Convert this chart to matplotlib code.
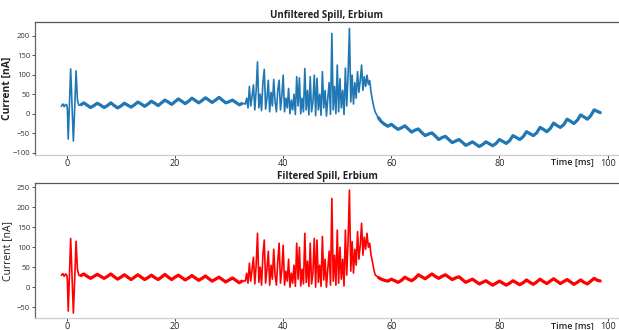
import numpy as np
import matplotlib.pyplot as plt

plt.rcParams['font.family'] = ['Open Sans', 'DejaVu Sans']

# ---- unfiltered spill (blue) ----
t_start = [-1.0, -0.75, -0.5, -0.25, 0.0, 0.1, 0.25, 0.45, 0.7, 0.95, 1.2, 1.45, 1.7, 1.95, 2.2]
raw_start = [20, 25, 18, 24, 22, 10, -65, 15, 115, 25, -70, 15, 110, 35, 22]

t_base = np.arange(2.5, 32.51, 0.625)
raw_base = [22, 28, 22, 16, 21, 27, 22, 16, 21, 28, 21, 15, 20, 27, 22, 17,
            23, 30, 25, 19, 25, 32, 27, 21, 28, 35, 30, 24, 31, 38, 32, 26,
            32, 40, 34, 28, 34, 41, 35, 29, 35, 42, 35, 28, 31, 35, 29, 23, 27]

t_burst = np.arange(33.0, 57.01, 0.25)
raw_burst = [25, 40, 15, 70, 20, 45, 74, 10, 60, 133, 15, 50, 8, 80, 114, 12,
             40, 86, 5, 55, 20, 88, 30, 5, 60, 86, 10, 45, 99, 5, 40, 15,
             65, 0, 35, 10, 50, -2, 95, 20, 92, 0, 40, 5, 116, 10, 60, -3,
             95, 5, 30, 99, -5, 91, 10, 50, -4, 108, 15, 60, -6, 40, 80, -2,
             206, 10, 70, 0, 125, 5, 90, 15, 60, -2, 117, 20, 100, 219, 30, 99,
             25, 80, 40, 108, 55, 85, 125, 60, 95, 70, 99, 75, 85, 55, 35, 18, 5]

t_tail = np.arange(57.5, 98.76, 0.625)
raw_tail = [-8, -20, -27, -32, -27, -34, -40, -36, -31, -39, -47, -42, -39, -48, -56, -52,
            -49, -57, -66, -61, -58, -66, -74, -70, -66, -73, -81, -77, -72, -78, -84, -79,
            -72, -77, -82, -76, -66, -71, -76, -69, -56, -61, -66, -59, -46, -51, -56, -49,
            -35, -40, -46, -38, -24, -30, -35, -28, -14, -19, -25, -17, -3, -8, -14, -5,
            10, 6, 2]

# ---- filtered spill (red) ----
filt_start = [30, 34, 27, 33, 30, 15, -60, 20, 122, 30, -65, 20, 115, 45, 30]

filt_base = [28, 33, 27, 22, 27, 32, 27, 22, 27, 33, 26, 20, 25, 31, 25, 19,
             25, 31, 25, 19, 24, 30, 24, 19, 25, 32, 25, 19, 25, 30, 24, 18,
             23, 29, 23, 17, 22, 28, 21, 15, 20, 25, 19, 13, 18, 23, 17, 11, 16]

filt_burst = [15, 35, 10, 60, 15, 45, 75, 8, 55, 135, 12, 50, 5, 80, 118, 10,
              45, 90, 5, 55, 20, 95, 30, 5, 65, 110, 10, 45, 105, 5, 40, 15,
              70, 0, 35, 10, 55, 2, 110, 20, 100, 3, 45, 8, 135, 12, 65, 2,
              110, 8, 35, 122, 0, 118, 12, 55, 2, 127, 18, 70, 0, 45, 90, 5,
              222, 15, 80, 5, 143, 10, 100, 20, 70, 3, 143, 30, 115, 243, 40, 114,
              35, 95, 55, 139, 70, 105, 160, 80, 125, 95, 135, 100, 110, 80, 64, 45, 31]

filt_tail = [25, 20, 17, 15, 20, 16, 12, 17, 25, 20, 16, 22, 31, 26, 21, 27,
             33, 27, 22, 27, 31, 25, 19, 23, 26, 19, 12, 16, 20, 14, 8, 12,
             16, 10, 5, 10, 15, 10, 5, 10, 16, 11, 6, 11, 18, 12, 7, 13,
             20, 14, 9, 15, 21, 15, 9, 14, 19, 13, 7, 12, 18, 12, 8, 15,
             22, 17, 15]

t_all = np.concatenate([t_start, t_base, t_burst, t_tail])
raw_all = np.concatenate([raw_start, raw_base, raw_burst, raw_tail])
filt_all = np.concatenate([filt_start, filt_base, filt_burst, filt_tail])

fig = plt.figure(figsize=(6.19, 3.30), dpi=100)
ax1 = fig.add_axes([0.0565, 0.530, 0.9435, 0.403])
ax2 = fig.add_axes([0.0565, 0.0355, 0.9435, 0.409])

panels = [
    (ax1, raw_all, raw_base, raw_tail, '#1f77b4', 'Unfiltered Spill, Erbium',
     (-106, 235), np.arange(-100, 201, 50), 'bold'),
    (ax2, filt_all, filt_base, filt_tail, '#ff0000', 'Filtered Spill, Erbium',
     (-78, 260), np.arange(-50, 251, 50), 'normal'),
]

for ax, y_all, y_base, y_tail, col, title, ylim, yticks, ywt in panels:
    ax.plot(t_all, y_all, color=col, lw=1.2)
    # the quiet parts of the trace are a thick noisy band
    ax.plot(t_base, y_base, color=col, lw=2.3, solid_capstyle='butt')
    ax.plot(t_tail, y_tail, color=col, lw=2.3, solid_capstyle='butt')
    ax.set_xlim(-5.9, 102.1)
    ax.set_ylim(*ylim)
    ax.set_xticks(np.arange(0, 101, 20))
    ax.set_yticks(yticks)
    ax.tick_params(axis='y', labelsize=5.5, length=2, width=0.6, pad=1.5, colors='#333333')
    ax.tick_params(axis='x', labelsize=6.5, length=2, width=0.6, pad=0.8, colors='#222222')
    ax.set_title(title, fontsize=7, fontweight='bold', pad=3, color='#222222')
    ax.set_ylabel('Current [nA]', fontsize=7.5, fontweight=ywt, color='#222222')
    ax.yaxis.set_label_coords(-0.038, 0.5)
    ax.set_xlabel('Time [ms]', fontsize=6.5, fontweight='semibold', color='#222222')
    ax.xaxis.set_label_coords(0.92, -0.052)
    ax.xaxis.label.set_va('center')
    ax.spines['right'].set_visible(False)
    ax.spines['top'].set_color('#555555')
    ax.spines['left'].set_color('#666666')
    ax.spines['bottom'].set_color('#cccccc')
    for s in ax.spines.values():
        s.set_linewidth(0.9)

fig.savefig('out.png', dpi=100)
